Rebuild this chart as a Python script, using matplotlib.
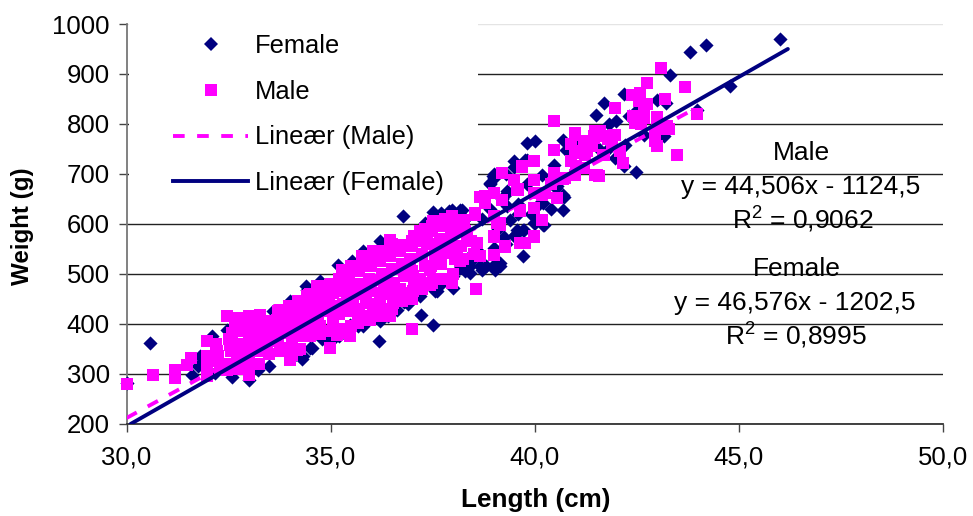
"""Weight against length by sex, with linear trend lines."""

import matplotlib
matplotlib.use("Agg")
import matplotlib.pyplot as plt
from matplotlib.lines import Line2D
from matplotlib.patches import Rectangle

plt.rcParams["font.family"] = ["Liberation Sans", "DejaVu Sans"]
plt.rcParams["mathtext.default"] = "regular"

# --- values ---
female_length = [
    46.0, 44.2, 43.81, 43.32, 44.78, 42.18, 41.69, 41.51, 43.0, 43.22, 43.97, 42.3, 42.5, 41.81, 42.0,
    42.67, 43.16, 39.81, 40.01, 40.69, 40.77, 41.03, 41.56, 41.81, 42.2, 41.97, 42.19, 42.49, 39.48,
    39.81, 40.48, 40.18, 38.99, 39.48, 40.54, 40.71, 40.68, 40.2, 39.32, 40.01, 40.19, 39.73, 39.52,
    39.4, 39.24, 38.99, 36.77, 37.5, 38.17, 35.19, 35.52, 34.74, 38.42, 38.71, 39.03, 39.15, 39.71,
    36.19, 37.21, 37.5, 37.6, 37.99, 36.8, 36.62, 35.48, 35.68, 36.2, 34.5, 34.33, 35.03, 39.56,
    40.22, 39.48, 39.32, 38.91, 38.42, 38.17, 30.58, 30.0, 32.1, 32.45, 31.6, 32.17, 32.58, 33.01,
    33.23, 33.5, 31.76, 31.8, 33.48, 34.29, 34.54, 34.99, 35.48, 37.56, 34.41, 38.7, 38.9, 39.1,
    39.3, 39.6, 37.8, 38.3, 38.6, 37.9,
    33.9, 34.1, 34.8, 35.2, 35.8, 36.4, 36.9, 37.2, 37.7, 38.0, 38.3, 38.8, 33.6, 34.0, 34.4, 35.8,
    36.2, 37.3, 37.7, 38.0, 38.9, 39.0, 39.3, 39.8, 40.1, 40.4, 39.9, 39.6, 39.97, 39.2,
    39.76, 38.97, 40.52, 40.7, 39.31, 39.72, 39.23, 38.99, 38.66, 38.42, 37.97, 38.21, 37.76, 38.5, 39.15,
]
female_weight = [
    969, 958, 943, 898, 875, 860, 841, 818, 848, 841, 828, 815, 828, 800, 805,
    778, 775, 761, 766, 767, 748, 755, 751, 751, 758, 732, 716, 704, 725,
    728, 718, 698, 691, 714, 675, 653, 628, 641, 661, 601, 598, 588, 578,
    608, 574, 551, 615, 623, 628, 518, 525, 485, 501, 508, 508, 521, 535,
    365, 418, 398, 465, 471, 443, 428, 395, 395, 405, 351, 335, 368, 588,
    598, 575, 635, 681, 535, 511, 361, 281, 375, 388, 298, 301, 293, 288,
    308, 315, 315, 335, 341, 329, 351, 371, 398, 465, 468, 610, 630, 590,
    560, 620, 600, 610, 545, 625,
    345, 335, 370, 375, 395, 415, 440, 455, 480, 495, 505, 515, 425, 445, 475, 545,
    565, 601, 621, 620, 680, 700, 700, 680, 640, 630, 620, 640, 601, 650,
    728, 695, 671, 658, 665, 588, 568, 518, 515, 515, 628, 628, 611, 531, 515,
]
male_length = [
    43.1, 42.75, 43.69, 41.97, 40.46, 42.38, 42.59, 43.2, 42.75, 42.67, 43.97, 42.67, 42.99, 42.46,
    40.99, 41.48, 41.97, 41.69, 41.44, 43.24, 43.28, 42.95, 42.99, 43.48, 40.46, 40.99, 41.28, 41.24,
    41.69, 42.17, 41.48, 41.58, 39.97, 39.69, 39.19, 40.46, 39.48, 39.6, 39.97, 39.97, 40.54, 40.26,
    38.99, 39.19, 39.64, 39.97, 40.17, 39.11, 38.99, 39.97, 39.77, 39.28, 38.66, 40.99, 40.75, 41.2,
    38.56, 36.99, 35.48, 34.99, 35.15, 34.74, 34.5, 35.68, 35.97, 36.46, 36.2, 37.97, 37.48, 37.03,
    37.23, 38.17, 38.66, 38.99, 39.28, 39.64, 39.97, 40.18, 39.97, 39.64, 36.46, 37.48, 37.19, 36.99,
    36.74, 35.76, 36.05, 35.27, 35.64, 37.97, 38.26, 38.54, 38.79, 38.99, 38.99, 38.99, 39.15, 39.56,
    39.97, 34.42, 34.66, 34.99, 30.0, 30.64, 31.19, 31.19, 31.47, 31.58, 31.96, 31.96, 31.96, 31.96,
    32.21, 32.25, 32.45, 32.45, 32.7, 32.99, 32.99, 32.54, 32.58, 32.66, 32.74, 32.99, 33.27, 32.99,
    32.99, 32.99, 33.48, 33.68, 33.76, 33.48, 33.76, 34.05, 34.0, 34.17, 33.97, 34.25, 34.46, 34.74,
    34.99, 35.19, 35.48, 35.68, 35.97, 36.46, 36.99, 35.27, 35.6, 35.97, 36.54, 36.99, 37.44, 36.05,
    34.74, 34.41, 34.74, 34.09, 33.76, 35.07, 35.4, 35.87, 36.21, 36.54, 37.03, 37.44, 35.56, 35.07,
    41.6, 41.8, 42.1, 41.4, 41.1, 40.9, 42.55, 42.4, 42.6, 43.0, 42.95, 43.15, 41.9, 41.5, 41.2,
    40.9, 41.0, 40.7, 40.4,
    40.99, 41.28, 39.19, 39.68, 39.48, 39.6, 40.46, 38.99, 40.17, 39.64, 39.07, 39.27, 38.99, 38.66,
    38.78, 38.54, 38.25, 37.97, 37.48, 41.52, 40.99, 41.44, 41.93, 41.68, 39.15, 38.33, 38.58, 37.68,
    38.0, 37.35, 38.09, 37.84,
]
male_weight = [
    911, 881, 873, 831, 805, 858, 861, 850, 840, 828, 819, 811, 813, 801,
    778, 785, 778, 775, 771, 795, 789, 778, 755, 737, 748, 741, 755, 738,
    738, 721, 698, 696, 725, 714, 701, 701, 688, 669, 688, 661, 651, 661,
    661, 648, 628, 631, 608, 601, 574, 574, 562, 554, 654, 698, 691, 711,
    469, 389, 375, 351, 378, 388, 375, 401, 408, 416, 416, 481, 481, 465,
    475, 525, 535, 538, 555, 561, 575, 608, 631, 625, 568, 595, 585, 565,
    558, 535, 545, 508, 508, 615, 605, 621, 655, 661, 575, 615, 601, 668,
    661, 455, 475, 478, 280, 298, 308, 291, 318, 331, 295, 366, 335, 318,
    345, 325, 415, 308, 321, 315, 298, 358, 381, 391, 411, 415, 418, 388,
    361, 338, 398, 408, 428, 368, 351, 338, 328, 348, 435, 435, 458, 475,
    351, 381, 375, 405, 408, 415, 389, 501, 505, 518, 441, 461, 478, 488,
    435, 395, 395, 388, 381, 421, 441, 441, 461, 481, 495, 508, 468, 461,
    785, 770, 745, 755, 745, 760, 845, 815, 800, 790, 765, 795, 760, 775, 765,
    725, 715, 690, 680,
    741, 745, 701, 715, 688, 668, 701, 661, 658, 628, 601, 555, 538, 535,
    641, 618, 608, 611, 591, 698, 781, 775, 778, 738, 598, 575, 561, 568,
    588, 561, 531, 541,
]

# the dense middle of the cloud, where the single squares run together
male_core_length = [
    32.3, 32.25, 32.2, 32.5, 32.55, 32.5, 32.75, 32.8, 32.7, 32.75, 32.8,
    33.0, 33.05, 33.0, 33.0, 33.25, 33.2, 33.3, 33.25, 33.2, 33.5, 33.45, 33.5, 33.55,
    33.75, 33.7, 33.8, 33.75, 33.7, 34.0, 34.05, 34.0, 33.95, 34.0,
    34.25, 34.2, 34.3, 34.25, 34.2, 34.5, 34.45, 34.55, 34.5, 34.5,
    34.75, 34.7, 34.8, 34.75, 34.7, 35.0, 35.05, 35.0, 34.95, 35.0,
    35.25, 35.2, 35.3, 35.25, 35.2, 35.3, 35.5, 35.45, 35.55, 35.5, 35.45, 35.5,
    35.75, 35.7, 35.8, 35.75, 35.7, 35.8, 36.0, 36.05, 36.0, 35.95, 36.0, 36.05,
    36.25, 36.2, 36.3, 36.25, 36.2, 36.3, 36.5, 36.45, 36.55, 36.5, 36.45, 36.5,
    36.75, 36.7, 36.8, 36.75, 36.7, 37.0, 37.05, 37.0, 36.95, 37.0, 37.05,
    37.25, 37.2, 37.3, 37.25, 37.2, 37.3, 37.5, 37.45, 37.55, 37.5, 37.45, 37.5,
    37.75, 37.7, 37.8, 37.75, 37.7, 37.8, 38.0, 38.05, 38.0, 37.95, 38.0,
    38.25, 38.2, 38.3, 38.5, 38.45,
]
male_core_weight = [
    310, 335, 360, 320, 345, 370, 310, 335, 360, 385, 405,
    330, 350, 370, 395, 320, 345, 365, 390, 410, 340, 360, 385, 405,
    345, 365, 385, 410, 425, 345, 370, 395, 415, 435,
    350, 375, 400, 420, 445, 375, 395, 420, 440, 460,
    380, 405, 425, 450, 470, 385, 410, 435, 455, 480,
    390, 420, 440, 465, 490, 505, 395, 425, 450, 475, 495, 515,
    410, 430, 460, 480, 505, 530, 415, 440, 465, 490, 515, 535,
    425, 450, 475, 500, 525, 545, 430, 460, 480, 510, 535, 560,
    445, 470, 495, 520, 545, 450, 480, 505, 530, 555, 575,
    470, 490, 515, 540, 565, 590, 490, 515, 535, 560, 585, 605,
    490, 520, 545, 570, 595, 610, 500, 530, 555, 580, 600,
    530, 555, 585, 540, 565,
]

# trend line ends
female_trend_x = [30.1, 46.2]
female_trend_y = [199, 950]
male_trend_x = [30.0, 44.0]
male_trend_y = [211, 834]

x_ticks = [30, 35, 40, 45, 50]
x_tick_labels = ["30,0", "35,0", "40,0", "45,0", "50,0"]
y_ticks = [200, 300, 400, 500, 600, 700, 800, 900, 1000]

NAVY = "#000080"
MAGENTA = "#FF00FF"
W, H = 973, 516
DASH = (0, (3, 3.2))


def main() -> None:
    fig = plt.figure(figsize=(W / 100, H / 100), dpi=100)
    ax = fig.add_axes([126.5 / W, 1 - 423.5 / H, (943 - 126.5) / W, (423.5 - 24) / H])

    ax.set_xlim(30, 50)
    ax.set_ylim(200, 1000)
    ax.set_xticks(x_ticks)
    ax.set_xticklabels(x_tick_labels)
    ax.set_yticks(y_ticks)
    ax.tick_params(labelsize=18.5, length=6, width=1, color="#444444", pad=6)
    ax.tick_params(axis="x", pad=10)
    ax.yaxis.grid(True, color="#222222", lw=1)
    ax.get_ygridlines()[-1].set_color("#e4e4e4")
    ax.set_axisbelow(True)

    for side in ("top", "right"):
        ax.spines[side].set_visible(False)
    ax.spines["left"].set_color("#777777")
    ax.spines["left"].set_linewidth(1.3)
    ax.spines["bottom"].set_color("#333333")
    ax.spines["bottom"].set_linewidth(1.3)

    # white legend area hides the grid lines
    ax.add_patch(Rectangle((129 / W, 1 - 195 / H), (478 - 129) / W, (195 - 20) / H,
                           transform=fig.transFigure, facecolor="white",
                           edgecolor="none", zorder=1.5))

    ax.scatter(female_length, female_weight, marker="D", s=52, color=NAVY,
               linewidths=0, zorder=3, clip_on=False)
    ax.scatter(male_length + male_core_length, male_weight + male_core_weight,
               marker="s", s=78, color=MAGENTA, linewidths=0, zorder=4, clip_on=False)
    ax.plot(male_trend_x, male_trend_y, color=MAGENTA, lw=2.8, ls=DASH, zorder=5)
    ax.plot(female_trend_x, female_trend_y, color=NAVY, lw=2.8, zorder=6,
            solid_capstyle="round")

    fig.text(536 / W, 1 - 500 / H, "Length (cm)", fontsize=18.8, fontweight="bold",
             ha="center", va="center")
    fig.text(23 / W, 1 - 226 / H, "Weight (g)", fontsize=17.4, fontweight="bold",
             ha="center", va="center", rotation=90)

    handles = [
        Line2D([], [], ls="none", marker="D", ms=7.2, color=NAVY, mew=0),
        Line2D([], [], ls="none", marker="s", ms=8.6, color=MAGENTA, mew=0),
        Line2D([], [], color=MAGENTA, lw=2.8, ls=DASH),
        Line2D([], [], color=NAVY, lw=2.8),
    ]
    labels = ["Female", "Male", "Lineær (Male)", "Lineær (Female)"]
    ax.legend(handles, labels, loc="upper left", frameon=False, fontsize=18.4,
              bbox_to_anchor=(173 / W, 1 - 34 / H), bbox_transform=fig.transFigure,
              borderpad=0, borderaxespad=0, handlelength=2.95, handletextpad=0.26,
              labelspacing=0.85).set_zorder(7)

    notes = [
        (801, 153, "Male"),
        (801, 187, "y = 44,506x - 1124,5"),
        (803, 220, "R$^{2}$ = 0,9062"),
        (797, 269, "Female"),
        (795, 303, "y = 46,576x - 1202,5"),
        (796, 336, "R$^{2}$ = 0,8995"),
    ]
    for px, py, txt in notes:
        fig.text(px / W, 1 - py / H, txt, fontsize=19, ha="center", va="center", zorder=8)

    fig.savefig("out.png", dpi=100)


if __name__ == "__main__":
    main()
